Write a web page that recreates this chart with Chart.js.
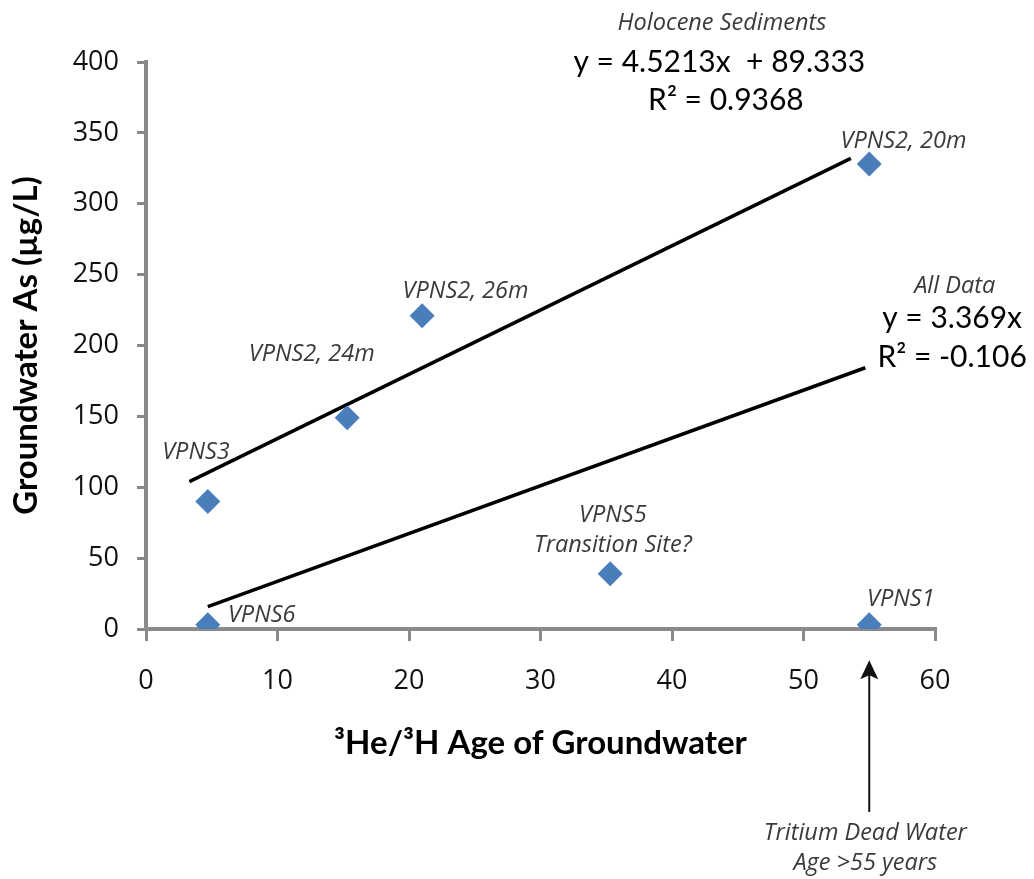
<!DOCTYPE html>
<html>
<head>
<meta charset="utf-8">
<title>Groundwater As vs 3He/3H age</title>
<script src="https://cdn.jsdelivr.net/npm/chart.js@4.4.1/dist/chart.umd.min.js"></script>
<style>
  html, body { margin: 0; padding: 0; background: #fff; }
  canvas { display: block; }
</style>
</head>
<body>
<canvas id="asAgeChart" width="1034" height="879"></canvas>
<script>
// 3He/3H age (years) and groundwater As (ug/L) per well
var siteNames = ['VPNS6', 'VPNS3', 'VPNS2, 24m', 'VPNS2, 26m', 'VPNS5', 'VPNS2, 20m', 'VPNS1'];
var ages = [4.7, 4.7, 15.3, 21.0, 35.3, 55.0, 55.0];
var arsenic = [3, 90, 149, 221, 39, 328, 3];

// trendline ends as drawn on the figure
var holoceneFitX = [3.3, 53.6];
var holoceneFitY = [104, 332];
var allDataFitX = [4.7, 54.7];
var allDataFitY = [15.8, 184.3];

var xTicks = [0, 10, 20, 30, 40, 50, 60];
var yTicks = [0, 50, 100, 150, 200, 250, 300, 350, 400];

// text on the plot, anchored in data units
var notes = [
  { text: 'VPNS6', x: 8.8, y: 10, style: 'label' },
  { text: 'VPNS3', x: 3.8, y: 125, style: 'label' },
  { text: 'VPNS2, 24m', x: 12.6, y: 194, style: 'label' },
  { text: 'VPNS2, 26m', x: 24.3, y: 238, style: 'label' },
  { text: 'VPNS5', x: 35.5, y: 80, style: 'label' },
  { text: 'Transition Site?', x: 35.5, y: 59, style: 'label' },
  { text: 'VPNS2, 20m', x: 57.6, y: 344, style: 'label' },
  { text: 'VPNS1', x: 57.4, y: 21, style: 'label' },
  { text: 'Holocene Sediments', x: 43.8, y: 427, style: 'label' },
  { text: 'y = 4.5213x  + 89.333', x: 43.6, y: 400, style: 'eq' },
  { text: 'R\u00b2 = 0.9368', x: 44.1, y: 373, style: 'eq' },
  { text: 'All Data', x: 61.5, y: 242, style: 'label' },
  { text: 'y = 3.369x', x: 61.3, y: 219, style: 'eq' },
  { text: 'R\u00b2 = -0.106', x: 61.3, y: 192, style: 'eq' },
  { text: 'Tritium Dead Water', x: 54.7, y: -144, style: 'label' },
  { text: 'Age >55 years', x: 54.7, y: -165, style: 'label' }
];
var arrowNote = { x: 55.0, yFrom: -129, yTo: -22 };

var noteFonts = {
  label: 'italic 23.5px "Open Sans"',
  eq: '30px Lato'
};
var noteColors = { label: '#3a3a3a', eq: '#000' };

var axisGrey = '#8a8a8a';

var toPoints = function(xs, ys) {
  var out = [];
  for (var i = 0; i < xs.length; i++) {
    out.push({ x: xs[i], y: ys[i] });
  }
  return out;
};

var notesPlugin = {
  id: 'notes',
  afterDraw: function(chart) {
    var ctx = chart.ctx;
    var sx = chart.scales.x;
    var sy = chart.scales.y;
    ctx.save();
    ctx.textAlign = 'center';
    ctx.textBaseline = 'middle';
    notes.forEach(function(n) {
      ctx.font = noteFonts[n.style];
      ctx.fillStyle = noteColors[n.style];
      ctx.fillText(n.text, sx.getPixelForValue(n.x), sy.getPixelForValue(n.y));
    });

    // arrow pointing at VPNS1
    var ax = sx.getPixelForValue(arrowNote.x);
    var y0 = sy.getPixelForValue(arrowNote.yFrom);
    var y1 = sy.getPixelForValue(arrowNote.yTo);
    ctx.strokeStyle = '#111';
    ctx.fillStyle = '#111';
    ctx.lineWidth = 2;
    ctx.beginPath();
    ctx.moveTo(ax, y0);
    ctx.lineTo(ax, y1 + 14);
    ctx.stroke();
    ctx.beginPath();
    ctx.moveTo(ax, y1);
    ctx.lineTo(ax - 9, y1 + 19);
    ctx.lineTo(ax, y1 + 15);
    ctx.lineTo(ax + 9, y1 + 19);
    ctx.closePath();
    ctx.fill();
    ctx.restore();
  }
};

var tickFont = { family: 'Open Sans', size: 27 };
var titleFont = { family: 'Lato', size: 33, weight: 'bold', lineHeight: 1.2 };

new Chart(document.getElementById('asAgeChart').getContext('2d'), {
  type: 'scatter',
  data: {
    datasets: [
      {
        label: 'Groundwater As',
        data: toPoints(ages, arsenic),
        pointStyle: 'rectRot',
        pointRadius: 12.5,
        backgroundColor: '#4a7ebb',
        borderColor: '#4a7ebb',
        borderWidth: 0,
        order: 0
      },
      {
        label: 'Holocene Sediments',
        data: toPoints(holoceneFitX, holoceneFitY),
        showLine: true,
        borderColor: '#000',
        borderWidth: 3.5,
        pointRadius: 0,
        order: 1
      },
      {
        label: 'All Data',
        data: toPoints(allDataFitX, allDataFitY),
        showLine: true,
        borderColor: '#000',
        borderWidth: 3.5,
        pointRadius: 0,
        order: 1
      }
    ]
  },
  options: {
    responsive: false,
    animation: false,
    layout: { padding: { top: 62, right: 99, left: 0, bottom: 0 } },
    plugins: {
      legend: { display: false },
      tooltip: { enabled: false }
    },
    scales: {
      x: {
        type: 'linear',
        min: xTicks[0],
        max: xTicks[xTicks.length - 1],
        afterBuildTicks: function(scale) {
          scale.ticks = xTicks.map(function(v) { return { value: v }; });
        },
        afterFit: function(scale) { scale.height = 250; },
        ticks: { font: tickFont, color: '#111', padding: 24, maxRotation: 0 },
        grid: { drawOnChartArea: false, drawTicks: true, tickLength: 12, color: axisGrey, lineWidth: 3 },
        border: { color: axisGrey, width: 4 },
        title: {
          display: true,
          text: '\u00b3He/\u00b3H Age of Groundwater',
          font: titleFont,
          color: '#000',
          padding: { top: 0, bottom: 116 }
        }
      },
      y: {
        type: 'linear',
        min: yTicks[0],
        max: yTicks[yTicks.length - 1],
        afterBuildTicks: function(scale) {
          scale.ticks = yTicks.map(function(v) { return { value: v }; });
        },
        afterFit: function(scale) { scale.width = 146; },
        ticks: { font: tickFont, color: '#111', padding: 18 },
        grid: { drawOnChartArea: false, drawTicks: true, tickLength: 9, color: axisGrey, lineWidth: 3 },
        border: { color: axisGrey, width: 4 },
        title: {
          display: true,
          text: 'Groundwater As (\u00b5g/L)',
          font: titleFont,
          color: '#000',
          padding: { top: 7, bottom: 0 }
        }
      }
    }
  },
  plugins: [notesPlugin]
});
</script>
</body>
</html>
